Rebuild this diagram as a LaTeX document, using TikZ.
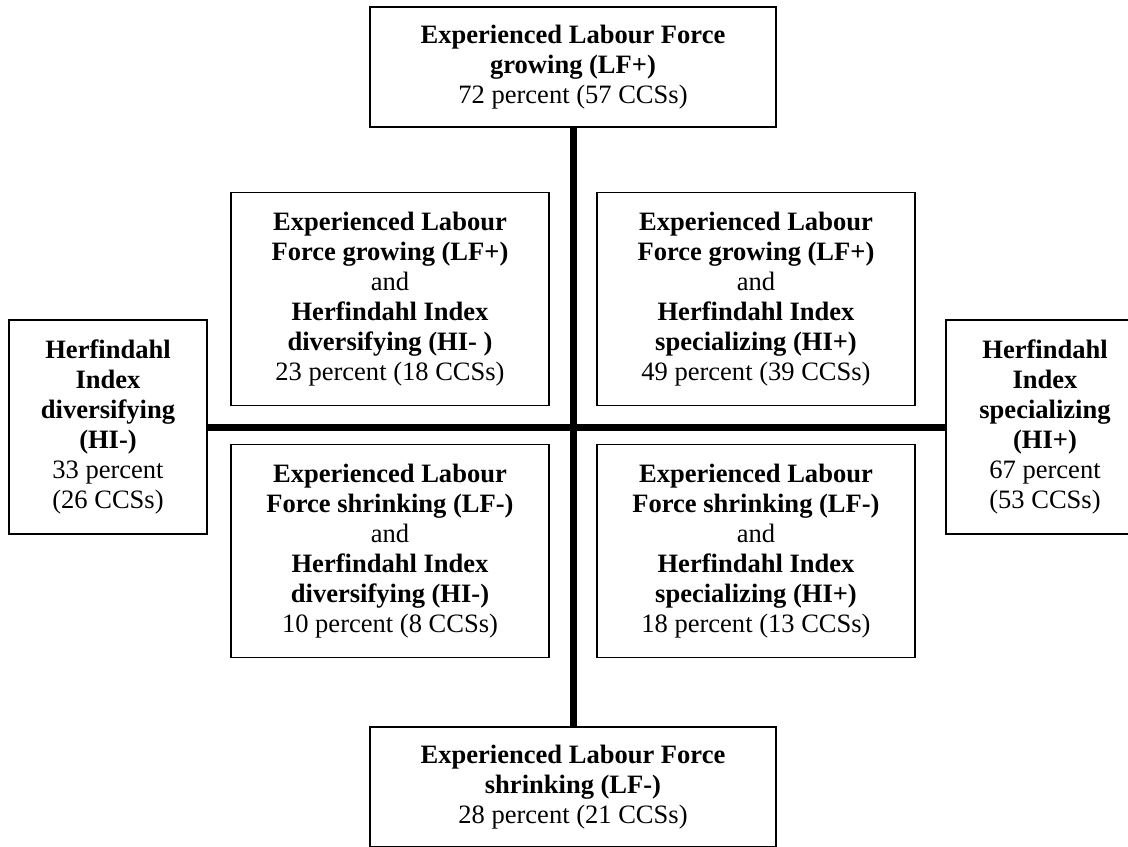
\documentclass[tikz,border=0pt]{standalone}
\usepackage{fontspec}
\setmainfont{Liberation Serif}
\usepackage{tikz}

\begin{document}
\begin{tikzpicture}[x=0.75pt, y=-0.75pt,
  box/.style={draw, line width=1.2pt, align=center, inner sep=0pt,
    font=\fontsize{19.9}{22.5}\selectfont},
  quad/.style={box, minimum width=238.5pt, minimum height=160pt},
  side/.style={box, minimum width=148.5pt, minimum height=160.5pt},
  ends/.style={box, minimum width=304.5pt, minimum height=90pt},
  axis/.style={line width=5.25pt}]

\useasboundingbox (0,0) rectangle (1128,846);

% labour force, top and bottom
\node[ends] (lfgrow) at (573,67) {\textbf{Experienced Labour Force}\\
  \textbf{growing (LF+)}\\72 percent (57 CCSs)};
\node[ends] (lfshrink) at (573,787) {\textbf{Experienced Labour Force}\\
  \textbf{shrinking (LF-)}\\28 percent (21 CCSs)};

% herfindahl index, left and right
\node[side] (hidiv) at (108,427) {\textbf{Herfindahl}\\\textbf{Index}\\
  \textbf{diversifying}\\\textbf{(HI-)}\\33 percent\\(26 CCSs)};
\node[side] (hispec) at (1045,427) {\textbf{Herfindahl}\\\textbf{Index}\\
  \textbf{specializing}\\\textbf{(HI+)}\\67 percent\\(53 CCSs)};

% the four quadrants
\node[quad] (growdiv) at (390,299) {\textbf{Experienced Labour}\\
  \textbf{Force growing (LF+)}\\and\\\textbf{Herfindahl Index}\\
  \textbf{diversifying (HI- )}\\23 percent (18 CCSs)};
\node[quad] (growspec) at (756,299) {\textbf{Experienced Labour}\\
  \textbf{Force growing (LF+)}\\and\\\textbf{Herfindahl Index}\\
  \textbf{specializing (HI+)}\\49 percent (39 CCSs)};
\node[quad] (shrinkdiv) at (390,551) {\textbf{Experienced Labour}\\
  \textbf{Force shrinking (LF-)}\\and\\\textbf{Herfindahl Index}\\
  \textbf{diversifying (HI-)}\\10 percent (8 CCSs)};
\node[quad] (shrinkspec) at (756,551) {\textbf{Experienced Labour}\\
  \textbf{Force shrinking (LF-)}\\and\\\textbf{Herfindahl Index}\\
  \textbf{specializing (HI+)}\\18 percent (13 CCSs)};

% axes
\draw[axis] (lfgrow) -- (lfshrink);
\draw[axis] (hidiv) -- (hispec);

\end{tikzpicture}
\end{document}
